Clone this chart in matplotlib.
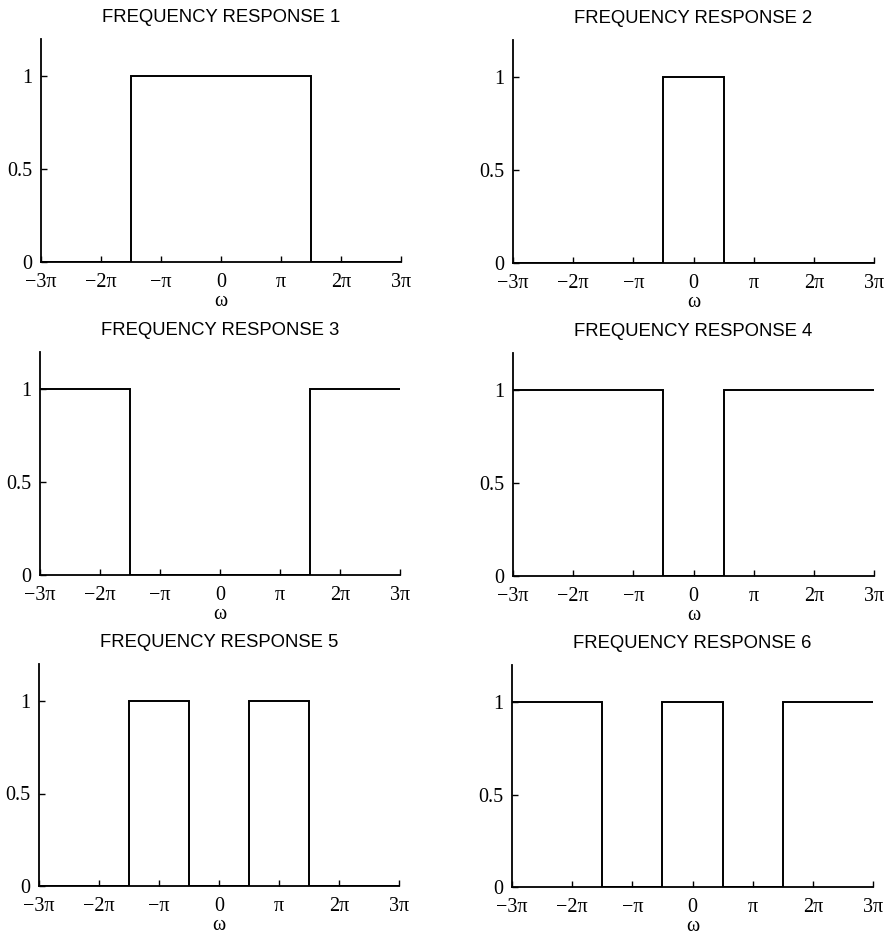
import numpy as np
import matplotlib
matplotlib.use("Agg")
import matplotlib.pyplot as plt

PI = np.pi

# Band edges (in units of pi) and magnitude levels of each ideal response
titles = ["FREQUENCY RESPONSE 1", "FREQUENCY RESPONSE 2", "FREQUENCY RESPONSE 3",
          "FREQUENCY RESPONSE 4", "FREQUENCY RESPONSE 5", "FREQUENCY RESPONSE 6"]
edges1 = [-3, -1.5, 1.5, 3]
levels1 = [0, 1, 0]
edges2 = [-3, -0.5, 0.5, 3]
levels2 = [0, 1, 0]
edges3 = [-3, -1.5, 1.5, 3]
levels3 = [1, 0, 1]
edges4 = [-3, -0.5, 0.5, 3]
levels4 = [1, 0, 1]
edges5 = [-3, -1.5, -0.5, 0.5, 1.5, 3]
levels5 = [0, 1, 0, 1, 0]
edges6 = [-3, -1.5, -0.5, 0.5, 1.5, 3]
levels6 = [1, 0, 1, 0, 1]

xtick_vals = [-3, -2, -1, 0, 1, 2, 3]
xtick_labels = ["\u22123\u03c0", "\u22122\u03c0", "\u2212\u03c0", "0", "\u03c0", "2\u03c0", "3\u03c0"]
ytick_vals = [0, 0.5, 1]
ytick_labels = ["0", "0.5", "1"]

all_edges = [edges1, edges2, edges3, edges4, edges5, edges6]
all_levels = [levels1, levels2, levels3, levels4, levels5, levels6]

W, H = 888, 936
fig = plt.figure(figsize=(W / 100, H / 100), dpi=100)

# axes boxes in pixels: (left, top, right, bottom)
boxes = [
    (41, 39, 401, 262), (513, 40, 874, 263),
    (40, 352, 400, 575), (513, 353, 874, 576),
    (39, 664, 399, 886), (512, 665, 873, 887),
]

serif = "Liberation Serif"
sans = "Liberation Sans"

for i, (e, lv) in enumerate(zip(all_edges, all_levels)):
    l, t, r, b = boxes[i]
    ax = fig.add_axes([l / W, 1 - b / H, (r - l) / W, (b - t) / H])
    ax.stairs(lv, np.array(e) * PI, baseline=None, color="black", linewidth=1.4)
    ax.set_xlim(-3 * PI, 3 * PI)
    ax.set_ylim(0, 1.2)
    for s in ["top", "right"]:
        ax.spines[s].set_visible(False)
    for s in ["left", "bottom"]:
        ax.spines[s].set_linewidth(1.3)
        ax.spines[s].set_color("black")
    ax.set_xticks(np.array(xtick_vals) * PI)
    ax.set_xticklabels(xtick_labels, fontfamily=serif, fontsize=14.5)
    ax.set_yticks(ytick_vals)
    ax.set_yticklabels(ytick_labels, fontfamily=serif, fontsize=14.5)
    ax.tick_params(direction="in", length=4, width=1.0)
    ax.tick_params(axis="x", pad=8)
    ax.tick_params(axis="y", pad=6)
    ax.set_xlabel("\u03c9", fontfamily=serif, fontsize=14.5, labelpad=0)
    ax.set_title(titles[i], fontfamily=sans, fontsize=13.3, pad=12)

fig.savefig("out.png", dpi=100)
